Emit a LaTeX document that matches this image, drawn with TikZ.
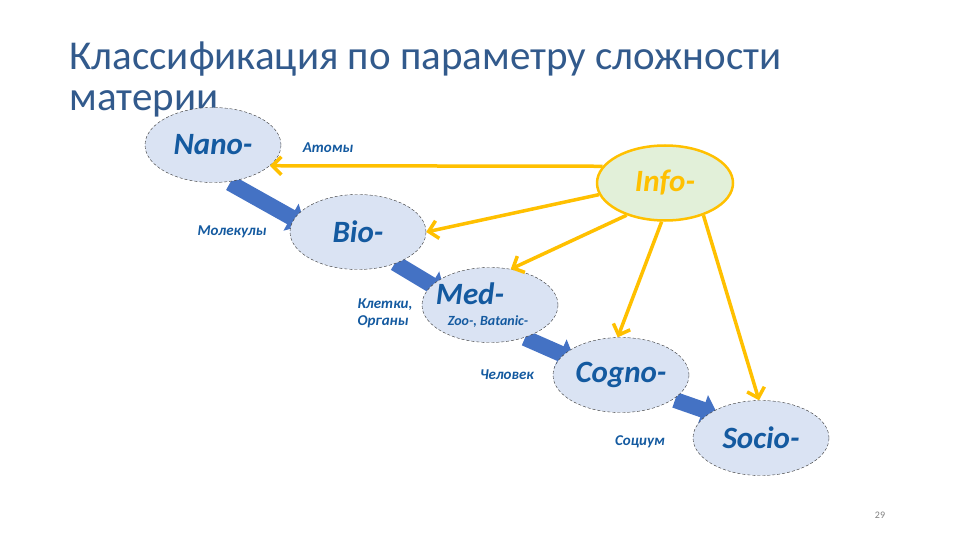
\documentclass[tikz,border=0pt]{standalone}
\usepackage{fontspec}
\setmainfont{Carlito}
\usetikzlibrary{arrows.meta,shapes.geometric}
\definecolor{ttl}{RGB}{50,90,140}
\definecolor{lbl}{RGB}{20,90,160}
\definecolor{ell}{RGB}{218,227,243}
\definecolor{inf}{RGB}{226,240,217}
\definecolor{yel}{RGB}{255,192,0}
\definecolor{blu}{RGB}{68,114,196}
\begin{document}
\begin{tikzpicture}[x=1pt,y=-1pt,
  el/.style={ellipse,draw=black!80,thin,densely dashed,fill=ell,minimum width=136pt,minimum height=75pt,inner sep=0pt,text=lbl,font=\bfseries\itshape\fontsize{31}{33}\selectfont},
  lb/.style={text=lbl,font=\bfseries\itshape\fontsize{15}{17}\selectfont,align=left},
  ya/.style={draw=yel,line width=3.5pt,-{Straight Barb[length=9pt,width=18pt]}},
  ba/.style={draw=blu,line width=16pt,-{Triangle[length=16pt,width=30pt]}}]
\useasboundingbox (0,0) rectangle (960,540);
\node[anchor=west,text=ttl,font=\fontsize{41}{41}\selectfont,align=left] (title) at (66,79) {Классификация по параметру сложности\\материи};
\coordinate (b1s) at (230,183); \coordinate (b1e) at (305,225);
\coordinate (b2s) at (395,263); \coordinate (b2e) at (445,293);
\coordinate (b3s) at (525,338); \coordinate (b3e) at (575,360);
\coordinate (b4s) at (675,400); \coordinate (b4e) at (718,415);
\draw[ba] (b1s) -- (b1e);
\draw[ba] (b2s) -- (b2e);
\draw[ba] (b3s) -- (b3e);
\draw[ba] (b4s) -- (b4e);
\node[el] (nano) at (213,145) {Nano-};
\node[el] (bio) at (358,232) {Bio-};
\node[el] (med) at (490,305) {};
\node[text=lbl,font=\bfseries\itshape\fontsize{31}{33}\selectfont] (medt) at (470,294) {Med-};
\node[lb,font=\bfseries\itshape\fontsize{14}{16}\selectfont] (zoo) at (488,322) {Zoo-, Batanic-};
\node[el] (cogno) at (621,375) {Cogno-};
\node[el] (socio) at (761,438) {Socio-};
\node[el,draw=yel,solid,line width=2.5pt,fill=inf,text=yel] (info) at (665,183) {Info-};
\draw[ya] (info.165) -- (nano.-20);
\draw[ya] (info.190) -- (bio.east);
\draw[ya] (info.220) -- (med.60);
\draw[ya] (info.265) -- (cogno.95);
\draw[ya] (info.-40) -- (socio.93);
\node[lb] (atom) at (328,148) {Атомы};
\node[lb] (mol) at (232,232) {Молекулы};
\node[lb,align=left] (klet) at (385,313) {Клетки,\\Органы};
\node[lb] (chel) at (507,375) {Человек};
\node[lb] (soc) at (640,442) {Социум};
\node[text=gray,font=\fontsize{10}{12}\selectfont] (num) at (880,515) {29};
\end{tikzpicture}
\end{document}
